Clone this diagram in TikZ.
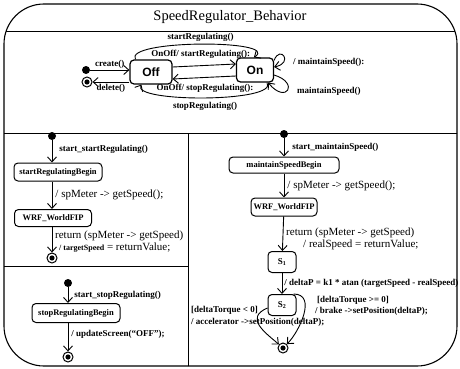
\documentclass[tikz,border=0pt]{standalone}
\usepackage{fontspec}
\setmainfont{Liberation Serif}
\setsansfont{Liberation Sans}
\usetikzlibrary{arrows.meta,positioning}
\tikzset{
  statebox/.style={draw, rounded corners=4pt, line width=1pt, inner sep=1.5pt,
    font=\fontsize{8.5}{9}\selectfont\bfseries},
  bigstate/.style={draw, rounded corners=4pt, line width=1.2pt,
    font=\sffamily\bfseries\fontsize{12}{13}\selectfont},
  initst/.style={circle, fill, inner sep=0pt, minimum size=8pt},
  finalst/.style={circle, draw, line width=1pt, inner sep=0pt, minimum size=10pt,
    path picture={\fill (path picture bounding box.center) circle (2.6pt);}},
  trans/.style={-{Straight Barb[length=5pt,width=9pt]}, line width=0.9pt},
  smalllbl/.style={font=\fontsize{9}{10}\selectfont\bfseries, inner sep=1pt},
  lbl/.style={font=\fontsize{11}{12}\selectfont, inner sep=1pt},
}
\begin{document}
\begin{tikzpicture}[x=1pt,y=-1pt]
  \useasboundingbox (0,0) rectangle (460,369);
  \draw[line width=1.1pt, rounded corners=40pt] (4,4) rectangle (457,366);
  \begin{scope}
    \clip[rounded corners=40pt] (4,4) rectangle (457,366);
    \draw[line width=0.8pt] (0,31) -- (460,31);
    \draw[line width=0.8pt] (0,133) -- (460,133);
    \draw[line width=0.8pt] (188,133) -- (188,369);
    \draw[line width=0.8pt] (0,266) -- (188,266);
  \end{scope}
  \node[font=\fontsize{14.5}{15}\selectfont] (title) at (230,17) {SpeedRegulator\_Behavior};

  % top region
  \node[bigstate, minimum width=42pt, minimum height=24pt] (off) at (151,72) {Off};
  \node[bigstate, minimum width=37pt, minimum height=24pt] (on) at (255,70) {On};
  \node[initst] (init) at (86,70) {};
  \node[finalst] (fin) at (87,82) {};
  \draw[trans] (init) -- (off.west |- init) node[midway, above, smalllbl] {create()};
  \draw[trans] (off.west |- fin) -- (fin) node[midway, below=1pt, smalllbl] {delete()};
  \draw[trans] ([yshift=5pt]off.east) -- ([yshift=6pt]on.west);
  \draw[trans] ([yshift=-6pt]on.west) -- ([yshift=-7pt]off.east);
  \draw[trans] ([xshift=6pt]off.north west) .. controls +(-12,-20) and +(28,-18) .. ([xshift=18pt]on.north west)
    node[pos=0.5, above=1pt, smalllbl] {startRegulating()}
    node[pos=0.5, below=5pt, smalllbl] {OnOff/ startRegulating():};
  \draw[trans] ([xshift=-7pt]on.south east) .. controls +(12,20) and +(-10,18) .. ([xshift=12pt]off.south west)
    node[pos=0.5, below=3pt, smalllbl] {stopRegulating()}
    node[pos=0.5, above=4pt, smalllbl] {OnOff/ stopRegulating():};
  \draw[trans] ([yshift=-3pt]on.north east) .. controls +(6,-16) and +(20,-4) .. ([yshift=3pt]on.east);
  \draw[trans] ([yshift=-5pt]on.east) .. controls +(26,8) and +(18,22) .. ([xshift=-6pt]on.south east);
  \node[smalllbl, anchor=west] (lms1) at (292,62) {/ maintainSpeed():};
  \node[smalllbl, anchor=west] (lms2) at (296,91) {maintainSpeed()};

  % start regulating
  \node[initst] (i1) at (52,136) {};
  \node[statebox, minimum width=88pt, minimum height=18pt] (srb) at (58,172) {startRegulatingBegin};
  \node[statebox, minimum width=77pt, minimum height=17pt] (wrf1) at (53,218) {WRF\_WorldFIP};
  \node[finalst] (f1) at (52,258) {};
  \draw[trans] (i1) -- (i1 |- srb.north) node[pos=0.4, right=6pt, smalllbl] {start\_startRegulating()};
  \draw[trans] (i1 |- srb.south) -- (i1 |- wrf1.north) node[midway, right=2pt, lbl] {/ spMeter -> getSpeed();};
  \draw[trans] (i1 |- wrf1.south) -- (f1);
  \node[lbl, anchor=west] (ret1) at (54,236) {return (spMeter -> getSpeed)};
  \node[lbl, anchor=west] (ts1) at (58,248) {{\fontsize{8}{9}\selectfont\bfseries / targetSpeed} = returnValue;};

  % stop regulating
  \node[initst] (i2) at (68,283) {};
  \node[statebox, minimum width=88pt, minimum height=19pt] (stb) at (76,313) {stopRegulatingBegin};
  \node[finalst] (f2) at (68,357) {};
  \draw[trans] (i2) -- (i2 |- stb.north) node[midway, right=5pt, smalllbl] {start\_stopRegulating()};
  \draw[trans] (i2 |- stb.south) -- (f2) node[pos=0.4, right=2pt, smalllbl] {/ updateScreen(``OFF'');};

  % maintain speed
  \node[initst] (i3) at (284,134) {};
  \node[statebox, minimum width=110pt, minimum height=16pt] (msb) at (284,165) {maintainSpeedBegin};
  \node[statebox, minimum width=66pt, minimum height=18pt] (wrf2) at (284,207) {WRF\_WorldFIP};
  \node[statebox, font=\fontsize{9}{10}\selectfont\bfseries, minimum width=28pt, minimum height=21pt] (s1) at (282,262) {S\textsubscript{1}};
  \node[statebox, font=\fontsize{9}{10}\selectfont\bfseries, minimum width=28pt, minimum height=21pt] (s2) at (282,305) {S\textsubscript{2}};
  \node[finalst] (f3) at (283,348) {};
  \draw[trans] (i3) -- (msb) node[midway, right=7pt, smalllbl] {start\_maintainSpeed()};
  \draw[trans] (msb) -- (wrf2) node[midway, right=2pt, lbl] {/ spMeter -> getSpeed();};
  \draw[trans] (wrf2) -- (s1);
  \node[lbl, anchor=west] (ret2) at (285,233) {return (spMeter -> getSpeed)};
  \node[lbl, anchor=west] (rs2) at (302,245) {/ realSpeed = returnValue;};
  \draw[trans] (s1) -- (s2) node[midway, right=1pt, smalllbl] {/ deltaP = k1 * atan (targetSpeed - realSpeed)};
  \draw[trans] ([yshift=-3pt]s2.west) .. controls +(-24,10) and +(-16,-14) .. (f3);
  \draw[trans] ([xshift=-3pt]s2.north east) .. controls +(24,0) and +(16,-16) .. (f3);
  \node[smalllbl, anchor=west] (gge) at (316,300) {[deltaTorque >= 0]};
  \node[smalllbl, anchor=west] (brk) at (314,311) {/ brake ->setPosition(deltaP);};
  \node[smalllbl, anchor=west] (glt) at (190,310) {[deltaTorque < 0]};
  \node[smalllbl, anchor=west] (acc) at (190,322) {/ accelerator ->setPosition(deltaP);};
\end{tikzpicture}
\end{document}
